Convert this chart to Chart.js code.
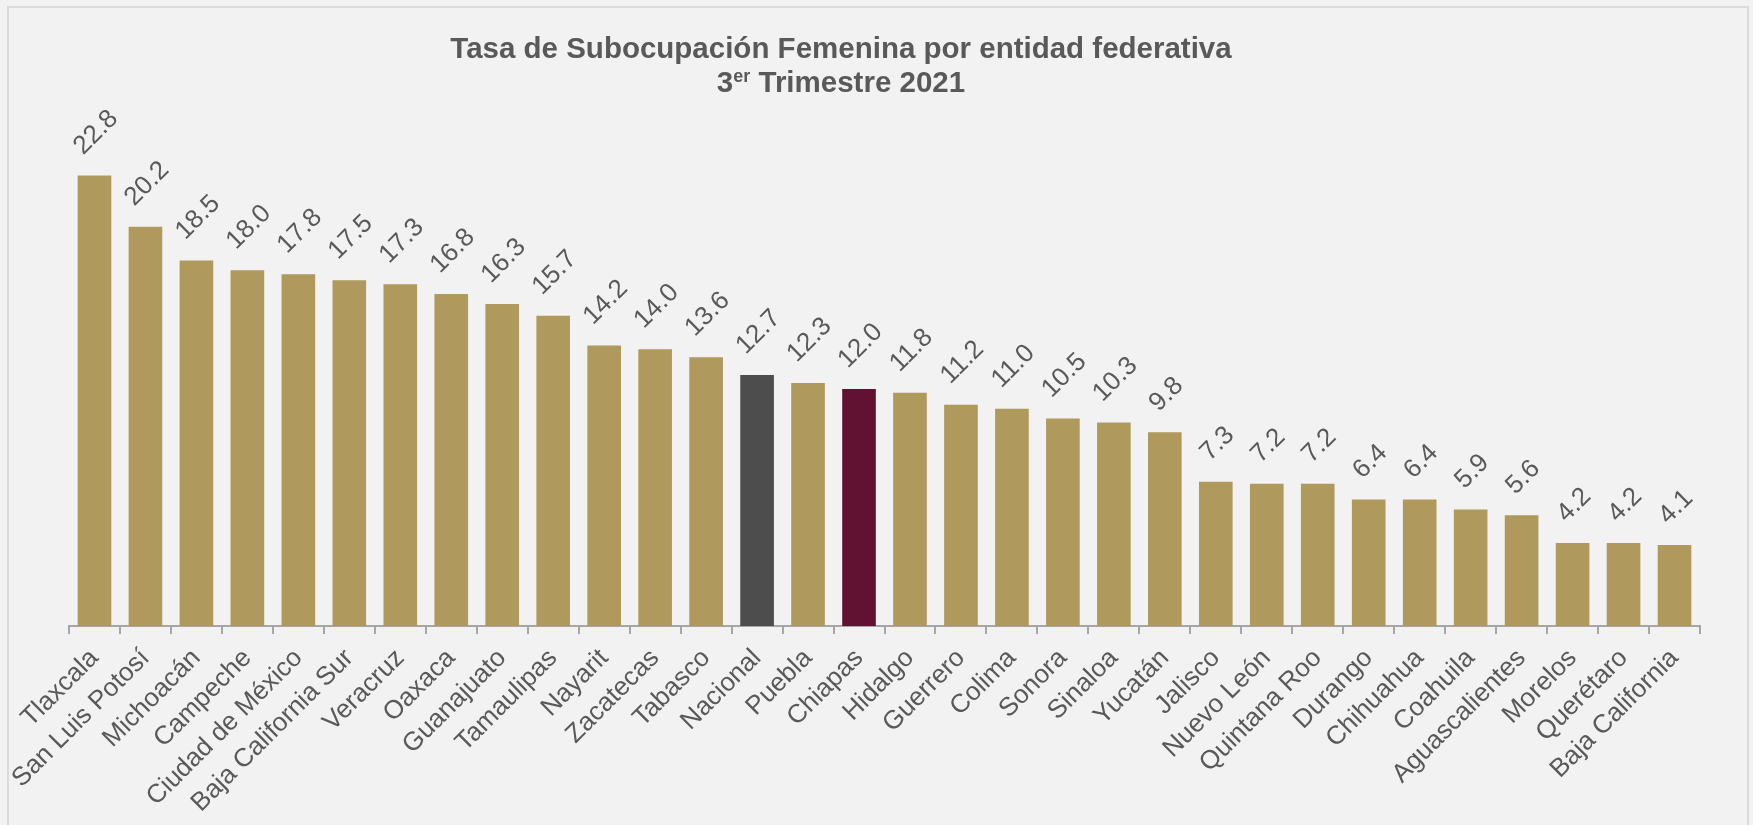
<!DOCTYPE html>
<html>
<head>
<meta charset="utf-8">
<script src="https://cdn.jsdelivr.net/npm/chart.js@4.4.1/dist/chart.umd.min.js"></script>
<style>
  html, body { margin: 0; padding: 0; background: #f2f2f2; }
  #wrap { position: relative; width: 1753px; height: 825px; }
</style>
</head>
<body>
<div id="wrap"><canvas id="chart" width="1753" height="825"></canvas></div>
<script>
// Tasa de subocupación femenina, 3er trimestre 2021 (%)
var estados = ['Tlaxcala', 'San Luis Potosí', 'Michoacán', 'Campeche', 'Ciudad de México',
    'Baja California Sur', 'Veracruz', 'Oaxaca', 'Guanajuato', 'Tamaulipas', 'Nayarit',
    'Zacatecas', 'Tabasco', 'Nacional', 'Puebla', 'Chiapas', 'Hidalgo', 'Guerrero', 'Colima',
    'Sonora', 'Sinaloa', 'Yucatán', 'Jalisco', 'Nuevo León', 'Quintana Roo', 'Durango',
    'Chihuahua', 'Coahuila', 'Aguascalientes', 'Morelos', 'Querétaro', 'Baja California'];
var tasas = [22.8, 20.2, 18.5, 18.0, 17.8, 17.5, 17.3, 16.8, 16.3, 15.7, 14.2, 14.0, 13.6,
    12.7, 12.3, 12.0, 11.8, 11.2, 11.0, 10.5, 10.3, 9.8, 7.3, 7.2, 7.2, 6.4, 6.4, 5.9, 5.6,
    4.2, 4.2, 4.1];
var titulo = 'Tasa de Subocupación Femenina por entidad federativa';
var subtitulo = ['3', 'er', ' Trimestre 2021'];

var GOLD = '#af995d', GRIS = '#4d4d4d', GUINDA = '#611232', TXT = '#595959';
var FONT = '"Liberation Sans", Arial, sans-serif';

var colores = estados.map(function(e) {
    if (e === 'Nacional') return GRIS;
    if (e === 'Chiapas') return GUINDA;
    return GOLD;
});

// frame + title (with superscript) drawn by hand
var frame = {
    id: 'frame',
    beforeDraw: function(c) {
        var ctx = c.ctx;
        ctx.save();
        ctx.fillStyle = '#f2f2f2';
        ctx.fillRect(0, 0, c.width, c.height);
        ctx.strokeStyle = '#dadada';
        ctx.lineWidth = 2;
        ctx.strokeRect(8, 7, 1740, 900);
        ctx.restore();
    },
    afterDraw: function(c) {
        var ctx = c.ctx, cx = 841;
        ctx.save();
        ctx.fillStyle = TXT;
        ctx.textBaseline = 'alphabetic';
        ctx.textAlign = 'center';
        var big = 'bold 29.5px ' + FONT, small = 'bold 18px ' + FONT;
        ctx.font = big;
        ctx.fillText(titulo, cx, 58);
        var w1 = ctx.measureText(subtitulo[0]).width, w3 = ctx.measureText(subtitulo[2]).width;
        ctx.font = small; var w2 = ctx.measureText(subtitulo[1]).width;
        var x = cx - (w1 + w2 + w3) / 2;
        ctx.textAlign = 'left';
        ctx.font = big; ctx.fillText(subtitulo[0], x, 92);
        ctx.font = small; ctx.fillText(subtitulo[1], x + w1, 82);
        ctx.font = big; ctx.fillText(subtitulo[2], x + w1 + w2, 92);
        ctx.restore();
    }
};

// rotated value labels: the rotated box sits centred over the bar, ~20px above it
var etiquetas = {
    id: 'etiquetas',
    afterDatasetsDraw: function(c) {
        var ctx = c.ctx, meta = c.getDatasetMeta(0);
        var size = 26, capH = size * 0.72;
        ctx.save();
        ctx.fillStyle = TXT;
        ctx.font = size + 'px ' + FONT;
        ctx.textAlign = 'center';
        ctx.textBaseline = 'alphabetic';
        meta.data.forEach(function(bar, i) {
            var txt = tasas[i].toFixed(1);
            var w = ctx.measureText(txt).width;
            var boxH = (w + capH) / Math.SQRT2;
            ctx.save();
            ctx.translate(bar.x, bar.y - 20 - boxH / 2);
            ctx.rotate(-Math.PI / 4);
            ctx.fillText(txt, 0, capH / 2);
            ctx.restore();
        });
        ctx.restore();
    }
};

new Chart(document.getElementById('chart'), {
    type: 'bar',
    data: {
        labels: estados,
        datasets: [{
            data: tasas,
            backgroundColor: colores,
            borderWidth: 0,
            categoryPercentage: 1,
            barPercentage: 0.66
        }]
    },
    options: {
        responsive: false,
        animation: false,
        layout: { padding: { left: 69, right: 53, top: 132, bottom: 0 } },
        plugins: { legend: { display: false }, tooltip: { enabled: false } },
        scales: {
            x: {
                offset: true,
                grid: { display: true, drawOnChartArea: false, drawTicks: true, tickLength: 8, color: '#a6a6a6', lineWidth: 2, offset: true },
                border: { display: true, color: '#a6a6a6', width: 2 },
                ticks: { autoSkip: false, minRotation: 45, maxRotation: 45, padding: 9, color: TXT, font: { family: FONT, size: 26 } },
                afterFit: function(s) { s.height = 199; s.paddingLeft = 0; s.paddingRight = 0; }
            },
            y: { display: false, min: 0, max: 25 }
        }
    },
    plugins: [frame, etiquetas]
});
</script>
</body>
</html>
